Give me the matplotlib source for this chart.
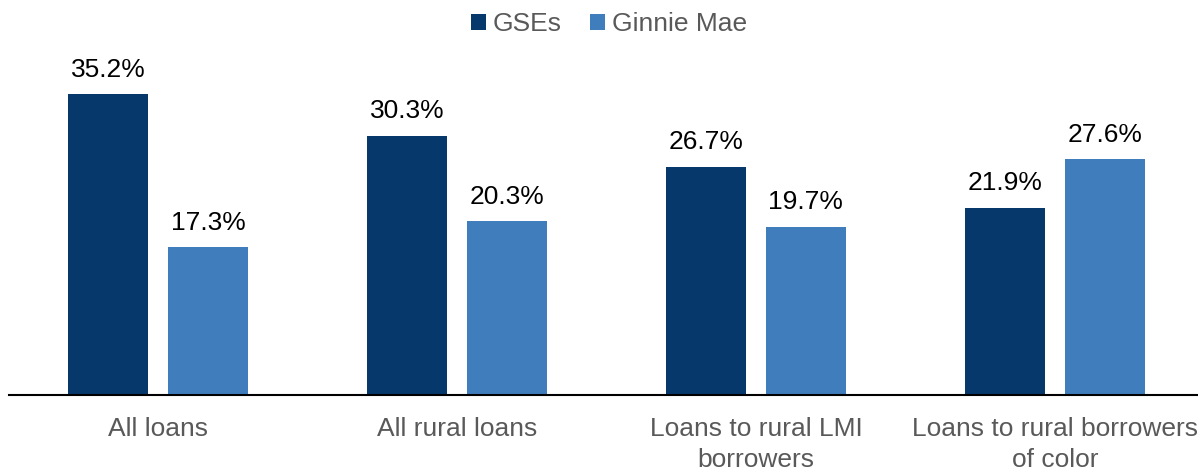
import matplotlib.pyplot as plt
import numpy as np

plt.rcParams['font.family'] = ['Liberation Sans', 'DejaVu Sans']

categories = ["All loans", "All rural loans", "Loans to rural LMI\nborrowers",
              "Loans to rural borrowers\nof color"]
gses = [35.2, 30.3, 26.7, 21.9]
ginnie = [17.3, 20.3, 19.7, 27.6]

dark = '#06386b'
light = '#407dbd'
grey = '#595959'

fig = plt.figure(figsize=(11.98, 4.71), dpi=100)
# axes runs a bit past the right edge, like the original
ax = fig.add_axes([8.5/1198, 76/471, 1196/1198, 395/471])

x = np.arange(len(categories))
w = 0.268
off = 0.167
b1 = ax.bar(x - off, gses, w, color=dark, label='GSEs')
b2 = ax.bar(x + off, ginnie, w, color=light, label='Ginnie Mae')

for bars, vals in ((b1, gses), (b2, ginnie)):
    for b, v in zip(bars, vals):
        ax.annotate(f"{v:.1f}%", (b.get_x() + b.get_width()/2, v),
                    xytext=(0, 9), textcoords='offset points',
                    ha='center', va='bottom', fontsize=19, color='black')

ax.set_xlim(-0.5, 3.5)
ax.set_ylim(0, 395/8.55)
ax.set_xticks(x)
ax.set_xticklabels(categories, fontsize=19, color=grey, linespacing=1.35)
ax.tick_params(axis='x', length=0, pad=16)
ax.set_yticks([])
for s in ['top', 'right', 'left']:
    ax.spines[s].set_visible(False)
ax.spines['bottom'].set_linewidth(1.5)
ax.spines['bottom'].set_color('black')

fig.legend(handles=[b1, b2], loc='center', bbox_to_anchor=(609/1198, 1 - 24/471),
           ncol=2, frameon=False, fontsize=19, labelcolor=grey,
           handlelength=0.55, handleheight=0.55, handletextpad=0.25, columnspacing=1.1)

fig.savefig('out.png', dpi=100)
